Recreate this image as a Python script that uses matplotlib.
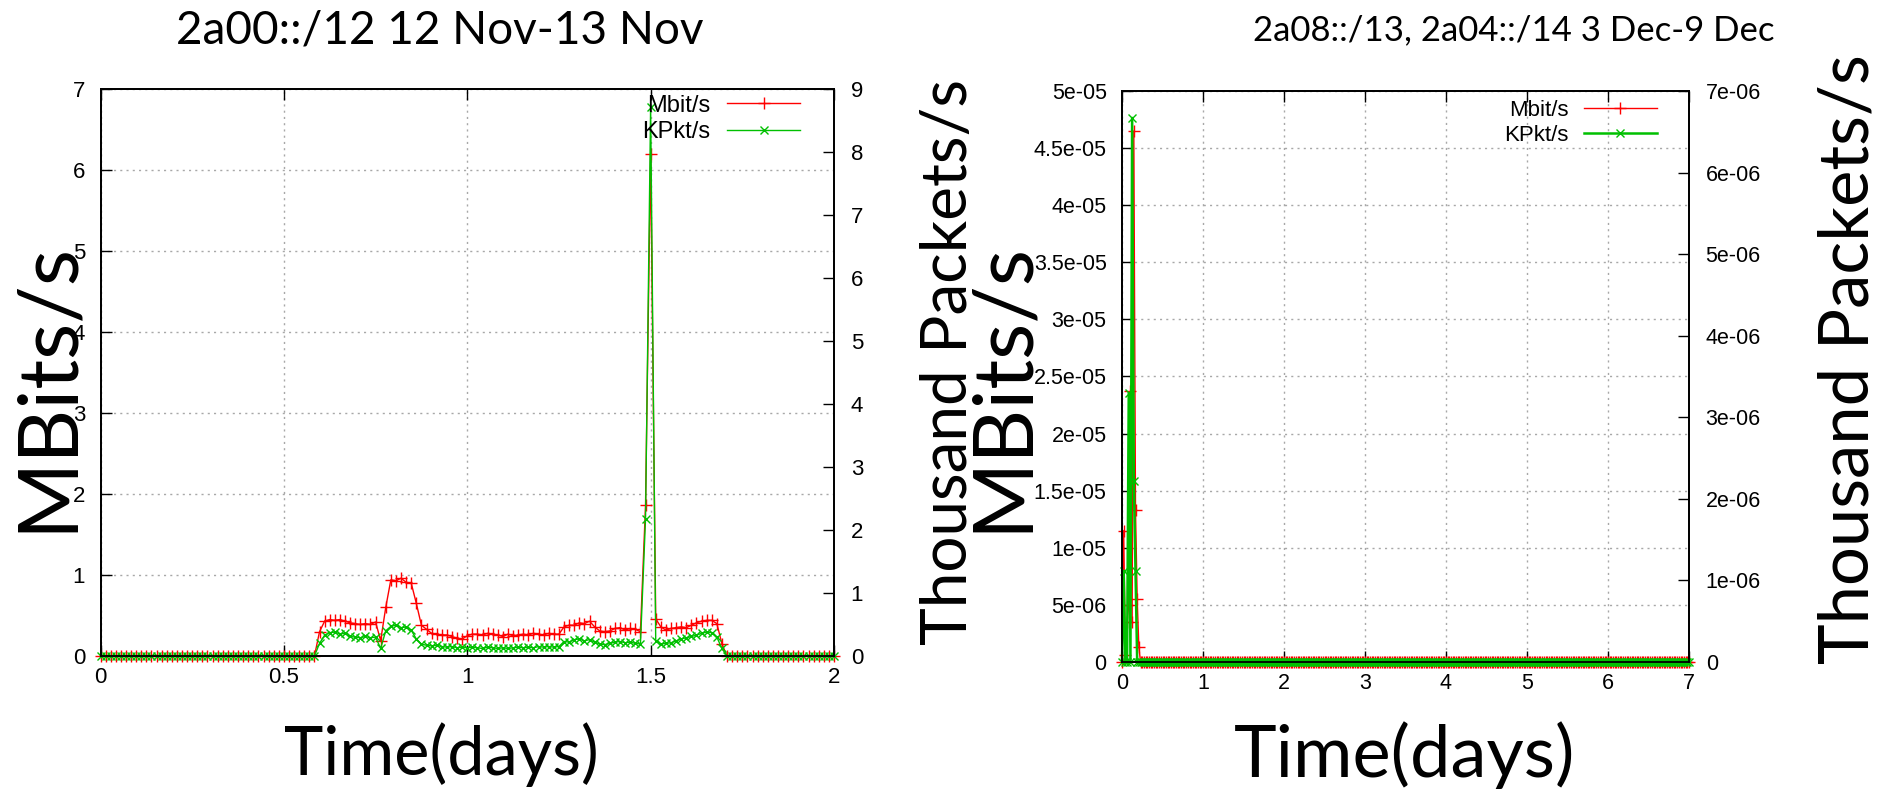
import numpy as np
import matplotlib.pyplot as plt
from matplotlib.ticker import MultipleLocator, FuncFormatter
from matplotlib import font_manager

# --- data -------------------------------------------------------------
# left panel: 2a00::/12, 12 Nov - 13 Nov, 20 minute samples over 2 days
t_nov = np.arange(145) / 72.0
mbit_nov = [0.0] * 43 + [
    0.30, 0.43, 0.45, 0.44, 0.45, 0.43, 0.41, 0.40, 0.39, 0.40, 0.39, 0.42,
    0.19, 0.60, 0.94, 0.93, 0.96, 0.91, 0.90, 0.65, 0.38, 0.33,
    0.28, 0.27, 0.26, 0.26, 0.24, 0.22, 0.21,
    0.25, 0.27, 0.27, 0.26, 0.28, 0.27, 0.26, 0.24, 0.27, 0.25,
    0.26, 0.27, 0.26, 0.28, 0.27, 0.26, 0.28, 0.27, 0.27,
    0.36, 0.38, 0.38, 0.41, 0.40, 0.43, 0.36, 0.31, 0.30, 0.31,
    0.34, 0.35, 0.32, 0.34, 0.33, 0.30,
    1.86, 6.20, 0.46,
    0.36, 0.32, 0.34, 0.35, 0.36, 0.35, 0.38, 0.41, 0.43, 0.44,
    0.44, 0.40, 0.15,
] + [0.0] * 22
kpkt_nov = [0.0] * 43 + [
    0.20, 0.33, 0.37, 0.38, 0.35, 0.36, 0.31, 0.30, 0.29, 0.31, 0.29, 0.30,
    0.12, 0.40, 0.47, 0.49, 0.45, 0.46, 0.41, 0.27, 0.19, 0.17,
    0.16, 0.17, 0.15, 0.14, 0.15, 0.13, 0.14,
    0.13, 0.14, 0.13, 0.12, 0.14, 0.13, 0.12, 0.13, 0.12,
    0.13, 0.14, 0.13, 0.14, 0.13, 0.15, 0.14, 0.15, 0.14, 0.15,
    0.23, 0.22, 0.26, 0.27, 0.24, 0.26, 0.22, 0.19, 0.18, 0.20,
    0.22, 0.23, 0.21, 0.22, 0.20, 0.19,
    2.18, 8.72, 0.24,
    0.19, 0.20, 0.21, 0.24, 0.27, 0.29, 0.31, 0.33, 0.36, 0.38,
    0.37, 0.30, 0.12,
] + [0.0] * 22

# right panel: 2a08::/13, 2a04::/14, 3 Dec - 9 Dec, 30 minute samples over 7 days
t_dec = np.arange(337) / 48.0
mbit_dec = [0.0, 1.15e-05, 0.06e-05, 0.35e-05, 0.50e-05, 2.37e-05, 0.35e-05,
            4.65e-05, 1.33e-05, 0.55e-05, 0.13e-05] + [0.0] * 326
kpkt_dec = [0.0, 1.11e-06, 0.0, 0.0, 3.30e-06, 0.0, 6.67e-06,
            2.22e-06, 1.11e-06, 0.0, 0.0] + [0.0] * 326

titles = ["2a00::/12 12 Nov-13 Nov", "2a08::/13, 2a04::/14 3 Dec-9 Dec"]

# --- style ------------------------------------------------------------
RED = '#ff0000'
GREEN = '#00c000'
big = ['Lato', 'DejaVu Sans']
tickfont = ['Liberation Sans', 'DejaVu Sans']
names = {f.name for f in font_manager.fontManager.ttflist}
if 'Liberation Sans Narrow' in names:
    narrowfont = ['Liberation Sans Narrow', 'DejaVu Sans']
    narrow_size = 20
else:
    narrowfont = tickfont
    narrow_size = 16
W, H = 1895.0, 800.0

fig = plt.figure(figsize=(18.95, 8), dpi=100)


def box(l, t, r, b):
    return [l / W, 1 - b / H, (r - l) / W, (b - t) / H]


def gfmt(v, pos):
    return '%g' % float('%.6g' % v)


def panel(rect, t, mbit, kpkt, xmax, xstep, ymax, ystep, y2max, y2step,
          leg_anchor, green_lw, tfont, tsize, lsize):
    ax = fig.add_axes(rect)
    ax2 = ax.twinx()
    l1, = ax.plot(t, mbit, color=RED, lw=1, marker='+', ms=8, mew=1,
                  clip_on=False, label='Mbit/s')
    l2, = ax2.plot(t, kpkt, color=GREEN, lw=green_lw, marker='x', ms=6,
                   mew=1, clip_on=False, label='KPkt/s')
    ax.set_xlim(0, xmax)
    ax.set_ylim(0, ymax)
    ax2.set_ylim(0, y2max)
    ax.xaxis.set_major_locator(MultipleLocator(xstep))
    ax.yaxis.set_major_locator(MultipleLocator(ystep))
    ax2.yaxis.set_major_locator(MultipleLocator(y2step))
    for a in (ax.xaxis, ax.yaxis, ax2.yaxis):
        a.set_major_formatter(FuncFormatter(gfmt))
    ax.grid(True, color='#a8a8a8', lw=1, linestyle=(0, (1.5, 3)))
    ax.tick_params(direction='in', length=8, width=1, top=True, right=False,
                   labelsize=tsize, pad=11)
    ax.tick_params(axis='x', pad=8)
    ax2.tick_params(direction='in', length=8, width=1, labelsize=tsize, pad=12)
    for a in (ax, ax2):
        for s in a.spines.values():
            s.set_linewidth(1.3)
        for lab in a.get_xticklabels() + a.get_yticklabels():
            lab.set_family(tfont)
    ax2.legend([l1, l2], ['Mbit/s', 'KPkt/s'], loc='upper right',
               bbox_to_anchor=leg_anchor, frameon=False,
               markerfirst=False, handlelength=73 / (lsize * 100 / 72),
               handletextpad=0.7, labelspacing=0.2, borderpad=0,
               borderaxespad=0, prop={'family': tfont, 'size': lsize})
    return ax, ax2


panel(box(100.5, 89, 834, 656), t_nov, mbit_nov, kpkt_nov,
      2, 0.5, 7, 1, 9, 1, (0.954, 0.99), 1, narrowfont, narrow_size,
      narrow_size + 1)
panel(box(1122, 91, 1689, 662), t_dec, mbit_dec, kpkt_dec,
      7, 1, 5e-05, 5e-06, 7e-06, 1e-06, (0.943, 0.985), 1.8, tickfont, 15.5,
      16)

# big labels
fig.text(440 / W, 1 - 30 / H, titles[0], ha='center', va='center',
         fontsize=33, family=big)
fig.text(1514 / W, 1 - 30 / H, titles[1], ha='center', va='center',
         fontsize=25, family=big)
fig.text(441 / W, 1 - 755 / H, 'Time(days)', ha='center', va='center',
         fontsize=48, family=big)
fig.text(1405 / W, 1 - 755 / H, 'Time(days)', ha='center', va='center',
         fontsize=52, family=big)
for x in (48, 1003):
    fig.text(x / W, 1 - 387 / H, 'MBits/s', ha='center', va='center',
             rotation=90, fontsize=60, family=big)
fig.text(949 / W, 1 - 362 / H, 'Thousand Packets/s', ha='center',
         va='center', rotation=90, fontsize=46, family=big)
fig.text(1849 / W, 1 - 359 / H, 'Thousand Packets/s', ha='center',
         va='center', rotation=90, fontsize=49.5, family=big)

fig.savefig('out.png', dpi=100)
